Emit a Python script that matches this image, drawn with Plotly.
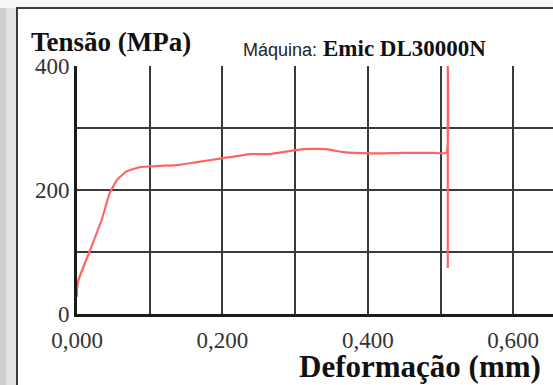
import plotly.graph_objects as go

# Data (deformation in mm, stress in MPa)
deformacao = [0.000, 0.000, 0.002, 0.018, 0.034, 0.045, 0.055, 0.068, 0.087, 0.100,
              0.137, 0.165, 0.199, 0.238, 0.265, 0.311, 0.343, 0.366, 0.403, 0.449,
              0.490, 0.508, 0.510, 0.510]
tensao = [28, 40, 55, 103, 152, 195, 216, 230, 237, 238,
          240, 245, 251, 258, 258, 266, 266, 261, 259, 260,
          260, 260, 400, 74]

x_tickvals = [0.0, 0.1, 0.2, 0.3, 0.4, 0.5, 0.6]
x_ticktext = ["0,000", "", "0,200", "", "0,400", "", "0,600"]
y_tickvals = [0, 100, 200, 300, 400]
y_ticktext = ["0", "", "200", "", "400"]

W, H = 553, 385
L, T, R, B = 77, 66, 0, 71
PW, PH = W - L - R, H - T - B


def px(X):
    return (X - L) / PW


def py(Y):
    return (H - B - Y) / PH


fig = go.Figure()
fig.add_trace(go.Scatter(
    x=deformacao, y=tensao, mode="lines",
    line=dict(color="rgb(255,100,100)", width=2.2, shape="spline", smoothing=0.4),
    hoverinfo="skip", showlegend=False,
))

serif = "Liberation Serif"
fig.update_layout(
    width=W, height=H,
    margin=dict(l=L, r=R, t=T, b=B),
    paper_bgcolor="white", plot_bgcolor="white",
    showlegend=False,
    xaxis=dict(range=[0, PW / 727.0], tickvals=x_tickvals, ticktext=x_ticktext,
               showgrid=True, gridcolor="#3a3a3a", gridwidth=1.6, zeroline=False,
               showline=True, linecolor="#1a1a1a", linewidth=3,
               ticks="", ticklabelstandoff=3,
               tickfont=dict(family=serif, size=23, color="#333")),
    yaxis=dict(range=[0, 400], tickvals=y_tickvals, ticktext=y_ticktext,
               showgrid=True, gridcolor="#3a3a3a", gridwidth=1.6, zeroline=False,
               showline=True, linecolor="#1a1a1a", linewidth=3,
               ticks="", ticklabelstandoff=0,
               tickfont=dict(family=serif, size=23, color="#333")),
    shapes=[
        dict(type="rect", xref="paper", yref="paper",
             x0=px(0), x1=px(6), y0=py(H + 5), y1=py(8),
             fillcolor="#cfcfcf", line=dict(width=0), layer="below"),
        dict(type="rect", xref="paper", yref="paper",
             x0=px(6), x1=px(16), y0=py(H + 5), y1=py(8),
             fillcolor="#e2e2e2", line=dict(width=0), layer="below"),
        dict(type="rect", xref="paper", yref="paper",
             x0=px(0), x1=px(W + 5), y0=py(8), y1=py(-5),
             fillcolor="#f6f6f6", line=dict(width=0), layer="below"),
        dict(type="rect", xref="paper", yref="paper",
             x0=px(17), x1=px(W + 10), y0=py(H + 10), y1=py(8),
             fillcolor="rgba(0,0,0,0)", line=dict(color="#3a3a3a", width=2)),
    ],
    annotations=[
        dict(text="<b>Tensão (MPa)</b>", xref="paper", yref="paper",
             x=px(111), y=py(42), xanchor="center", yanchor="middle", showarrow=False,
             font=dict(family=serif, size=27, color="#111")),
        dict(text="Máquina:", xref="paper", yref="paper",
             x=px(319), y=py(50), xanchor="right", yanchor="middle", showarrow=False,
             font=dict(family="Liberation Sans", size=18, color="#222")),
        dict(text="<b>Emic DL30000N</b>", xref="paper", yref="paper",
             x=px(321), y=py(48), xanchor="left", yanchor="middle", showarrow=False,
             font=dict(family=serif, size=23, color="#111")),
        dict(text="<b>Deformação (mm)</b>", xref="paper", yref="paper",
             x=px(420), y=py(366), xanchor="center", yanchor="middle", showarrow=False,
             font=dict(family=serif, size=31, color="#111")),
    ],
)

fig.write_html("out.html",
               config={"displayModeBar": False},
               post_script="document.body.style.margin='0';document.body.style.overflow='hidden';")
